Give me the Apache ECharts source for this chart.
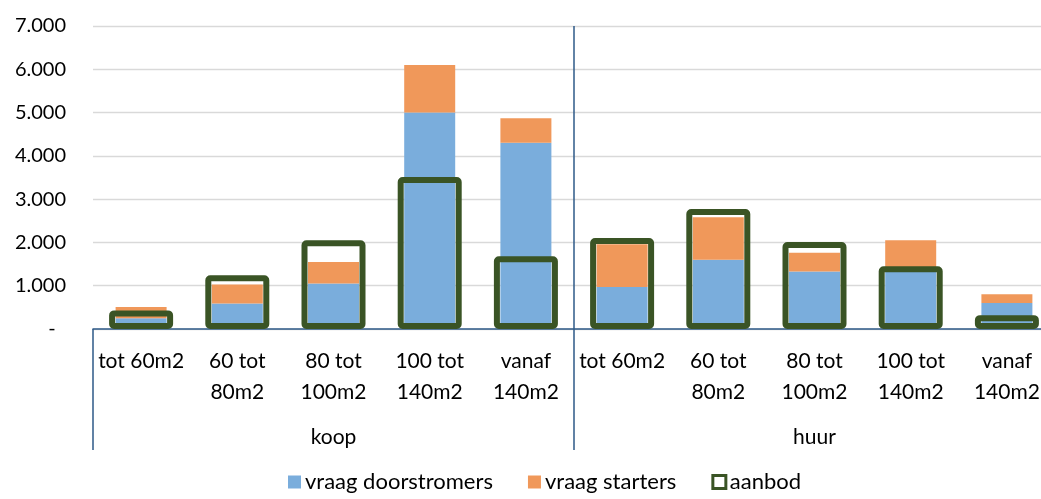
<!DOCTYPE html>
<html>
<head>
<meta charset="utf-8">
<script src="https://cdn.jsdelivr.net/npm/echarts@6/dist/echarts.min.js"></script>
<style>
  html, body { margin: 0; padding: 0; background: #fff; }
  #chart { width: 1041px; height: 499px; }
</style>
</head>
<body>
<div id="chart"></div>
<script>
// categorieen (woonoppervlak) en groepen
var categories = ['tot 60m2', '60 tot\n80m2', '80 tot\n100m2', '100 tot\n140m2', 'vanaf\n140m2',
                  'tot 60m2', '60 tot\n80m2', '80 tot\n100m2', '100 tot\n140m2', 'vanaf\n140m2'];
var groups = ['koop', 'huur'];

// waarden
var doorstromers = [250, 590, 1050, 5000, 4300, 970, 1600, 1330, 1340, 600];
var starters = [260, 440, 500, 1100, 570, 990, 980, 430, 710, 200];
var aanbod = [430, 1240, 2050, 3510, 1680, 2100, 2770, 2010, 1450, 320];

var yTicks = [0, 1000, 2000, 3000, 4000, 5000, 6000, 7000];

var FONT = 'Lato';
var axisBlue = '#2e5a88';
var green = '#3a5425';

function fmt(v) {
  if (v === 0) return '-  ';
  return String(v).replace(/\B(?=(\d{3})+(?!\d))/g, '.');
}

var myChart = echarts.init(document.getElementById('chart'));
myChart.setOption({
  animation: false,
  textStyle: { fontFamily: FONT },
  grid: { left: 93, width: 962, top: 26, bottom: 170, containLabel: false, outerBoundsMode: 'none' },
  legend: {
    bottom: 1,
    left: 283,
    itemWidth: 13,
    itemHeight: 13,
    itemGap: 35,
    textStyle: { fontSize: 22, color: '#000', fontFamily: FONT, padding: [0, 0, 0, -1] },
    data: [
      { name: 'vraag doorstromers', icon: 'rect' },
      { name: 'vraag starters', icon: 'rect' },
      { name: 'aanbod', icon: 'rect', itemStyle: { color: '#fff', borderColor: green, borderWidth: 3 } }
    ]
  },
  xAxis: [
    {
      type: 'category',
      data: categories,
      axisLine: { lineStyle: { color: axisBlue, width: 1.5 } },
      axisTick: { show: false },
      axisLabel: { interval: 0, margin: 17, fontSize: 21, lineHeight: 31, color: '#000' }
    },
    {
      type: 'category',
      data: categories,
      show: false
    },
    {
      type: 'category',
      data: groups,
      position: 'bottom',
      axisLine: { show: false },
      axisTick: { show: true, length: 121, lineStyle: { color: axisBlue, width: 1.5 } },
      axisLabel: { margin: 98, fontSize: 21, color: '#000' },
      splitLine: { show: true, showMinLine: false, showMaxLine: false, lineStyle: { color: axisBlue, width: 1.5 } }
    }
  ],
  yAxis: {
    type: 'value',
    min: yTicks[0],
    max: yTicks[yTicks.length - 1],
    interval: 1000,
    axisLine: { show: false },
    axisTick: { show: false },
    axisLabel: { fontSize: 20, color: '#000', margin: 27, formatter: fmt },
    splitLine: { lineStyle: { color: '#d9d9d9', width: 1.3 } }
  },
  series: [
    {
      name: 'vraag doorstromers',
      type: 'bar',
      stack: 'vraag',
      xAxisIndex: 0,
      barWidth: 51,
      data: doorstromers,
      itemStyle: { color: '#7aaddc' }
    },
    {
      name: 'vraag starters',
      type: 'bar',
      stack: 'vraag',
      xAxisIndex: 0,
      barWidth: 51,
      data: starters,
      itemStyle: { color: '#f0985a' }
    },
    {
      name: 'aanbod',
      type: 'bar',
      xAxisIndex: 1,
      barWidth: 64,
      z: 5,
      data: aanbod,
      itemStyle: { color: 'rgba(0,0,0,0)', borderColor: green, borderWidth: 6, borderRadius: 2 }
    }
  ]
});
</script>
</body>
</html>
